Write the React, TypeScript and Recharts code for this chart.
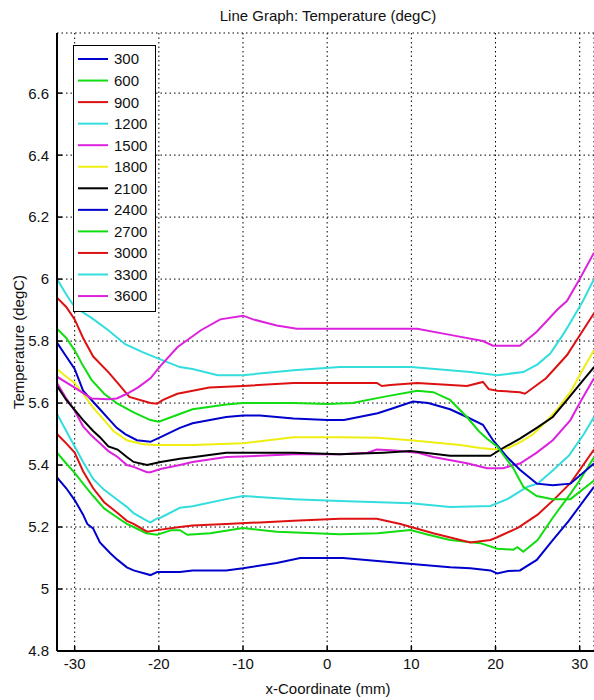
import React from 'react';
import { LineChart, Line, XAxis, YAxis, CartesianGrid, Legend } from 'recharts';

const SERIES_NAMES = ['300', '600', '900', '1200', '1500', '1800', '2100', '2400', '2700', '3000', '3300', '3600'];
const SERIES_COLORS = ['#0000cc', '#11dd11', '#dd1111', '#33dddd', '#dd22dd', '#eeee11', '#000000', '#0000cc', '#11dd11', '#dd1111', '#33dddd', '#dd22dd'];
const X_TICKS = [-30, -20, -10, 0, 10, 20, 30];
const Y_TICKS = [4.8, 5, 5.2, 5.4, 5.6, 5.8, 6, 6.2, 6.4, 6.6];
const X_DOMAIN: [number, number] = [-32.1, 31.7];
const Y_DOMAIN: [number, number] = [4.8, 6.794];
const TITLE = 'Line Graph: Temperature (degC)';
const X_LABEL = 'x-Coordinate (mm)';
const Y_LABEL = 'Temperature (degC)';

type P = [number, number][];

const t300: P = [[-32.1,5.36],[-31,5.325],[-30,5.287],[-29,5.24],[-28.5,5.21],[-27.8,5.195],[-27,5.15],[-25.8,5.116],[-24.9,5.094],[-23.8,5.07],[-23,5.06],[-21,5.045],[-20.2,5.055],[-17.5,5.055],[-16,5.06],[-12,5.06],[-10,5.067],[-6,5.084],[-3.2,5.1],[1.9,5.1],[8.7,5.084],[14.6,5.07],[17,5.067],[19.4,5.06],[20.2,5.05],[21.5,5.058],[22.9,5.06],[24.9,5.094],[26.8,5.158],[28.7,5.22],[31.7,5.33]];
const t600: P = [[-32.1,5.44],[-31,5.405],[-30,5.375],[-29,5.34],[-27.8,5.3],[-26.5,5.26],[-24.9,5.23],[-23.8,5.21],[-23,5.2],[-21.5,5.18],[-20.2,5.175],[-18.5,5.19],[-17.5,5.19],[-16.6,5.175],[-13.9,5.18],[-10,5.197],[-6,5.185],[1.5,5.177],[6,5.18],[9.9,5.19],[12,5.175],[14.6,5.158],[18.2,5.148],[20.2,5.13],[22.1,5.127],[22.6,5.135],[23.3,5.12],[25,5.158],[26.8,5.23],[28.7,5.3],[30,5.35],[31.7,5.425]];
const t900: P = [[-32.1,5.5],[-31,5.47],[-30,5.44],[-29,5.38],[-27.8,5.325],[-26.5,5.28],[-24.9,5.245],[-23.8,5.22],[-23,5.21],[-21.4,5.185],[-20.2,5.19],[-17.5,5.2],[-16,5.205],[-12,5.21],[-8,5.215],[-4,5.22],[1.5,5.227],[5.9,5.227],[8.7,5.21],[12.6,5.18],[17,5.15],[19.4,5.158],[20.2,5.167],[22.7,5.198],[25,5.24],[27,5.29],[29,5.345],[31.7,5.45]];
const t1200: P = [[-32.1,5.565],[-31,5.51],[-30,5.46],[-29,5.41],[-27.8,5.355],[-26.5,5.32],[-24.9,5.287],[-23.8,5.265],[-23,5.245],[-21.4,5.22],[-21,5.215],[-20.2,5.228],[-19.8,5.23],[-17.5,5.262],[-16,5.267],[-12,5.29],[-10,5.3],[-4,5.29],[1.5,5.284],[10,5.277],[14.6,5.265],[19.4,5.268],[21.4,5.29],[23.8,5.33],[25,5.34],[26.7,5.38],[28.7,5.43],[30.5,5.5],[31.7,5.555]];
const t1500: P = [[-32.1,5.665],[-31,5.615],[-30,5.575],[-29,5.525],[-28,5.495],[-27,5.47],[-26,5.445],[-24.9,5.426],[-23.8,5.4],[-23,5.394],[-21.4,5.377],[-21,5.377],[-19.8,5.387],[-17.5,5.4],[-16,5.41],[-12,5.426],[-8,5.43],[-4,5.435],[1.5,5.435],[4.8,5.44],[5.9,5.45],[8,5.447],[10.7,5.44],[12.6,5.426],[16.6,5.406],[19,5.39],[20.9,5.39],[22.9,5.405],[24.9,5.44],[26.8,5.48],[28.9,5.545],[30,5.6],[31.7,5.68]];
const t1800: P = [[-32.1,5.71],[-31,5.685],[-30,5.665],[-29,5.63],[-27.8,5.585],[-26.5,5.545],[-25.4,5.51],[-23.8,5.48],[-22,5.468],[-20.7,5.465],[-16,5.465],[-10,5.47],[-4,5.49],[1.5,5.49],[6,5.488],[9.9,5.48],[15.8,5.465],[18.2,5.455],[20,5.45],[21.5,5.455],[23,5.475],[24.5,5.5],[26,5.54],[27.5,5.585],[29,5.64],[30.4,5.71],[31.7,5.77]];
const t2100: P = [[-32.1,5.655],[-31,5.61],[-30,5.578],[-29,5.545],[-27.8,5.51],[-27,5.49],[-26,5.46],[-24.9,5.45],[-23.8,5.426],[-23,5.41],[-21.4,5.4],[-19.8,5.41],[-17.5,5.42],[-16,5.425],[-12,5.44],[-4,5.44],[1.5,5.435],[6.7,5.44],[9.9,5.445],[14.6,5.43],[19.4,5.43],[20.9,5.455],[22.9,5.485],[24.9,5.52],[26.8,5.555],[28.5,5.61],[30,5.66],[31.7,5.716]];
const t2400: P = [[-32.1,5.795],[-31,5.75],[-30,5.71],[-29,5.64],[-28,5.61],[-27,5.58],[-26,5.55],[-25,5.52],[-24,5.5],[-22.6,5.48],[-21,5.475],[-19.8,5.49],[-17.5,5.52],[-16,5.535],[-12,5.555],[-10,5.56],[-8,5.56],[-4,5.55],[0,5.545],[2,5.545],[6,5.567],[8,5.585],[10.2,5.605],[12,5.6],[14.6,5.58],[16.6,5.555],[18.5,5.53],[19.7,5.48],[21.4,5.425],[22.9,5.385],[24.9,5.34],[26.8,5.335],[28.9,5.34],[31.7,5.405]];
const t2700: P = [[-32.1,5.84],[-31,5.81],[-30,5.77],[-29,5.72],[-28,5.675],[-26.5,5.63],[-25,5.6],[-23,5.57],[-21,5.545],[-20,5.54],[-18,5.56],[-16,5.58],[-12,5.595],[-10,5.6],[-4,5.6],[0,5.597],[3,5.6],[6.7,5.62],[10.7,5.64],[12.6,5.635],[14.6,5.61],[16.6,5.555],[18,5.51],[19,5.485],[20.2,5.46],[21,5.43],[22.1,5.39],[23.3,5.33],[24.9,5.3],[26.8,5.29],[28.9,5.29],[31.7,5.35]];
const t3000: P = [[-32.1,5.94],[-31,5.91],[-30,5.87],[-29,5.81],[-27.8,5.75],[-26,5.7],[-24.9,5.665],[-23.5,5.62],[-21,5.6],[-20.2,5.598],[-19.5,5.61],[-17.8,5.63],[-14,5.65],[-10,5.655],[-4,5.665],[5.9,5.665],[6.5,5.655],[7.5,5.658],[10.7,5.665],[16.6,5.655],[18.5,5.668],[19.2,5.645],[20.2,5.64],[22.9,5.635],[23.5,5.63],[26,5.68],[28.5,5.755],[30.4,5.835],[31.7,5.89]];
const t3300: P = [[-32.1,6.0],[-31,5.95],[-30,5.91],[-28,5.875],[-26,5.835],[-24,5.79],[-22,5.765],[-20.2,5.745],[-17.5,5.716],[-16,5.71],[-13,5.69],[-10,5.69],[-4,5.706],[1.5,5.716],[10,5.716],[17,5.7],[20.2,5.69],[23.3,5.7],[25,5.725],[26.5,5.76],[28,5.82],[28.9,5.86],[30.4,5.93],[31.7,6.0]];
const t3600: P = [[-32.1,5.685],[-30,5.65],[-28,5.615],[-26,5.612],[-25,5.615],[-23.8,5.63],[-22.5,5.65],[-21,5.68],[-19.8,5.72],[-17.8,5.78],[-15,5.835],[-12.7,5.87],[-10,5.882],[-8.8,5.87],[-6,5.85],[-3.6,5.84],[10.7,5.84],[14.6,5.82],[18.5,5.8],[19.7,5.785],[22.9,5.785],[24.9,5.83],[27.3,5.9],[28.5,5.93],[30,6.0],[31.7,6.085]];

const SERIES_POINTS: P[] = [t300, t600, t900, t1200, t1500, t1800, t2100, t2400, t2700, t3000, t3300, t3600];

const FONT = '"Liberation Sans", Arial, Helvetica, sans-serif';
const FS = 15;
const TEXT_COLOR = '#111';

const fmt = (v: number) => String(Number(v.toFixed(1)));

function BottomTick(props: any) {
  const { x, y, payload } = props;
  return (
    <g>
      <line x1={x} x2={x} y1={y} y2={y - 5} stroke="#000" strokeWidth={1.5} />
      <text x={x} y={y + 18} textAnchor="middle" fontSize={FS} fontFamily={FONT} fill={TEXT_COLOR}>
        {fmt(payload.value)}
      </text>
    </g>
  );
}

function TopTick(props: any) {
  const { x, y } = props;
  return <line x1={x} x2={x} y1={y} y2={y + 5} stroke="#000" strokeWidth={1.5} />;
}

function LeftTick(props: any) {
  const { x, y, payload } = props;
  return (
    <g>
      <line x1={x} x2={x + 5} y1={y} y2={y} stroke="#000" strokeWidth={1.5} />
      <text x={x - 8} y={y} dy="0.36em" textAnchor="end" fontSize={FS} fontFamily={FONT} fill={TEXT_COLOR}>
        {fmt(payload.value)}
      </text>
    </g>
  );
}

function LegendBox() {
  const rowH = 21.55;
  return (
    <div
      style={{
        width: 83,
        height: 267,
        border: '1px solid #000',
        background: '#fff',
        boxSizing: 'border-box',
      }}
    >
      <svg width={81} height={265} style={{ display: 'block' }}>
        {SERIES_NAMES.map((name, i) => {
          const cy = 13 + rowH * i;
          return (
            <g key={name}>
              <line x1={4} x2={34} y1={cy} y2={cy} stroke={SERIES_COLORS[i]} strokeWidth={2} />
              <text x={40} y={cy} dy="0.36em" fontSize={FS} fontFamily={FONT} fill={TEXT_COLOR}>
                {name}
              </text>
            </g>
          );
        })}
      </svg>
    </div>
  );
}

export default function App() {
  return (
    <div style={{ position: 'absolute', left: 0, top: 0, width: 594, height: 700, background: '#fff', overflow: 'hidden' }}>
      <LineChart width={594} height={700} margin={{ top: 33, right: 0, bottom: 0, left: 0 }}>
        <CartesianGrid stroke="#000" strokeDasharray="1.5 3" strokeWidth={1} />
        <XAxis
          xAxisId="top"
          orientation="top"
          type="number"
          domain={X_DOMAIN}
          ticks={X_TICKS}
          allowDataOverflow
          height={0}
          tickSize={0}
          tickMargin={0}
          tickLine={false}
          tick={(p: any) => <TopTick {...p} />}
          axisLine={{ stroke: '#000', strokeWidth: 2 }}
        />
        <XAxis
          dataKey="x"
          type="number"
          domain={X_DOMAIN}
          ticks={X_TICKS}
          allowDataOverflow
          height={49}
          tickSize={0}
          tickMargin={0}
          tickLine={false}
          tick={(p: any) => <BottomTick {...p} />}
          axisLine={{ stroke: '#000', strokeWidth: 2 }}
          label={{
            content: () => (
              <text x={328} y={694} textAnchor="middle" fontSize={FS} fontFamily={FONT} fill={TEXT_COLOR}>
                {X_LABEL}
              </text>
            ),
          }}
        />
        <YAxis
          type="number"
          domain={Y_DOMAIN}
          ticks={Y_TICKS}
          allowDataOverflow
          width={57}
          tickSize={0}
          tickMargin={0}
          tickLine={false}
          tick={(p: any) => <LeftTick {...p} />}
          axisLine={{ stroke: '#000', strokeWidth: 2 }}
          label={{
            content: () => (
              <g>
                <text
                  x={19}
                  y={342}
                  dy="0.36em"
                  transform="rotate(-90, 19, 342)"
                  textAnchor="middle"
                  fontSize={FS}
                  fontFamily={FONT}
                  fill={TEXT_COLOR}
                >
                  {Y_LABEL}
                </text>
                <text x={328} y={21} textAnchor="middle" fontSize={FS} fontFamily={FONT} fill={TEXT_COLOR}>
                  {TITLE}
                </text>
              </g>
            ),
          }}
        />
        <Legend
          layout="vertical"
          align="center"
          verticalAlign="middle"
          wrapperStyle={{ position: 'absolute', left: 73, top: 45, width: 83, height: 267 }}
          content={() => <LegendBox />}
        />
        {SERIES_POINTS.map((pts, i) => (
          <Line
            key={SERIES_NAMES[i]}
            name={SERIES_NAMES[i]}
            data={pts.map(([x, y]) => ({ x, y }))}
            dataKey="y"
            type="linear"
            stroke={SERIES_COLORS[i]}
            strokeWidth={2}
            dot={false}
            activeDot={false}
            isAnimationActive={false}
          />
        ))}
      </LineChart>
    </div>
  );
}
